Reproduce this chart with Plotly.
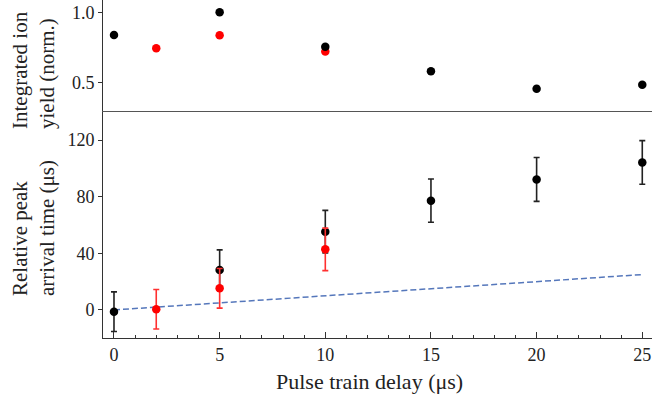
import plotly.graph_objects as go

# ---- data ----
delay_black = [0, 5, 10, 15, 20, 25]
yield_black = [0.839, 1.0, 0.756, 0.581, 0.457, 0.486]
delay_red = [2, 5, 10]
yield_red = [0.744, 0.837, 0.722]

arrival_black = [-1.2, 28.2, 55.3, 77.2, 92.2, 104.2]
arrival_black_err = [14.0, 14.2, 15.0, 15.3, 15.5, 15.4]
arrival_red = [0.5, 15.3, 42.8]
arrival_red_err = [13.9, 14.0, 15.0]

ref_x = [0, 25]
ref_y = [0, 25]

FONT = "Liberation Serif"
AX = "#333333"

fig = go.Figure()

# bottom panel
fig.add_trace(go.Scatter(x=ref_x, y=ref_y, mode="lines", xaxis="x", yaxis="y",
                         line=dict(color="#5577bb", width=1.5, dash="6px,3px"),
                         showlegend=False, hoverinfo="skip", cliponaxis=False))
fig.add_trace(go.Scatter(x=delay_black, y=arrival_black, mode="markers", xaxis="x", yaxis="y",
                         marker=dict(color="black", size=8.5), cliponaxis=False,
                         error_y=dict(type="data", array=arrival_black_err, color="#222222",
                                      thickness=1.6, width=3),
                         showlegend=False))
fig.add_trace(go.Scatter(x=delay_red, y=arrival_red, mode="markers", xaxis="x", yaxis="y",
                         marker=dict(color="#ff0000", size=8.5), cliponaxis=False,
                         error_y=dict(type="data", array=arrival_red_err, color="#ff3030",
                                      thickness=1.6, width=3),
                         showlegend=False))

# top panel
fig.add_trace(go.Scatter(x=delay_red, y=yield_red, mode="markers", xaxis="x2", yaxis="y2",
                         marker=dict(color="#ff0000", size=8.5), showlegend=False, cliponaxis=False))
fig.add_trace(go.Scatter(x=delay_black, y=yield_black, mode="markers", xaxis="x2", yaxis="y2",
                         marker=dict(color="black", size=8.5), showlegend=False, cliponaxis=False))

split = 1 - 111 / 338
xr = [-0.52, 25.46]
tickfont = dict(family=FONT, size=18, color="#222222")

fig.update_layout(
    width=652, height=398,
    margin=dict(l=103, r=0, t=0, b=60),
    paper_bgcolor="white", plot_bgcolor="white",
    font=dict(family=FONT, color="#222222"),
    xaxis=dict(domain=[0, 1], anchor="y", range=xr, showgrid=False, zeroline=False,
               showline=True, linecolor=AX, linewidth=1,
               ticks="inside", ticklen=6, tickcolor=AX, dtick=5, tick0=0,
               minor=dict(ticks="inside", ticklen=3, dtick=1, tick0=0, tickcolor=AX),
               tickfont=tickfont),
    yaxis=dict(domain=[0, split], anchor="x", range=[-19.8, 140.5], showgrid=False, zeroline=False,
               showline=True, linecolor=AX, linewidth=1,
               ticks="outside", ticklen=4, tickcolor=AX, tickvals=[0, 40, 80, 120],
               tickfont=tickfont),
    xaxis2=dict(domain=[0, 1], anchor="y2", matches="x", range=xr, showgrid=False, zeroline=False,
                showline=True, linecolor="#555555", linewidth=1,
                ticks="", showticklabels=False),
    yaxis2=dict(domain=[split, 1], anchor="x2", range=[0.299, 1.0874], showgrid=False, zeroline=False,
                showline=True, linecolor=AX, linewidth=1,
                ticks="outside", ticklen=4, tickcolor=AX, tickvals=[0.5, 1.0], tickformat=".1f",
                tickfont=tickfont),
    # top mirrored ticks
    xaxis3=dict(overlaying="x2", anchor="y2", side="top", range=xr, showgrid=False, zeroline=False,
                showline=False, showticklabels=False,
                ticks="inside", ticklen=6, tickcolor=AX, dtick=5, tick0=0,
                minor=dict(ticks="inside", ticklen=3, dtick=1, tick0=0, tickcolor=AX)),
    # right mirrored ticks (top panel)
    yaxis3=dict(overlaying="y2", anchor="x2", side="right", range=[0.405, 1.173],
                showgrid=False, zeroline=False, showline=False, showticklabels=False,
                ticks="inside", ticklen=6, tickcolor=AX, dtick=0.5, tick0=0,
                minor=dict(ticks="inside", ticklen=3, dtick=0.1, tick0=0, tickcolor=AX)),
    # right mirrored ticks (bottom panel)
    yaxis4=dict(overlaying="y", anchor="x", side="right", range=[-19.8, 140.5],
                showgrid=False, zeroline=False, showline=False, showticklabels=False,
                ticks="inside", ticklen=6, tickcolor=AX, dtick=50, tick0=0,
                minor=dict(ticks="inside", ticklen=3, dtick=10, tick0=0, tickcolor=AX)),
    annotations=[
        dict(text="Pulse train delay (μs)", xref="paper", yref="paper",
             x=(369 - 103) / 549, y=(338 - 381) / 338, xanchor="center", yanchor="middle",
             showarrow=False, font=dict(family=FONT, size=22, color="#222222")),
        dict(text="Integrated ion<br>yield (norm.)", xref="paper", yref="paper",
             x=(33 - 103) / 549, y=(338 - 131) / 338, xanchor="center", yanchor="bottom",
             textangle=-90, align="left", showarrow=False,
             font=dict(family=FONT, size=21, color="#222222")),
        dict(text="Relative peak<br>arrival time (μs)", xref="paper", yref="paper",
             x=(33 - 103) / 549, y=(338 - 298) / 338, xanchor="center", yanchor="bottom",
             textangle=-90, align="left", showarrow=False,
             font=dict(family=FONT, size=21, color="#222222")),
    ],
)

fig.write_html("out.html", config={"displayModeBar": False},
               post_script="document.body.style.margin='0';document.body.style.overflow='hidden';")
